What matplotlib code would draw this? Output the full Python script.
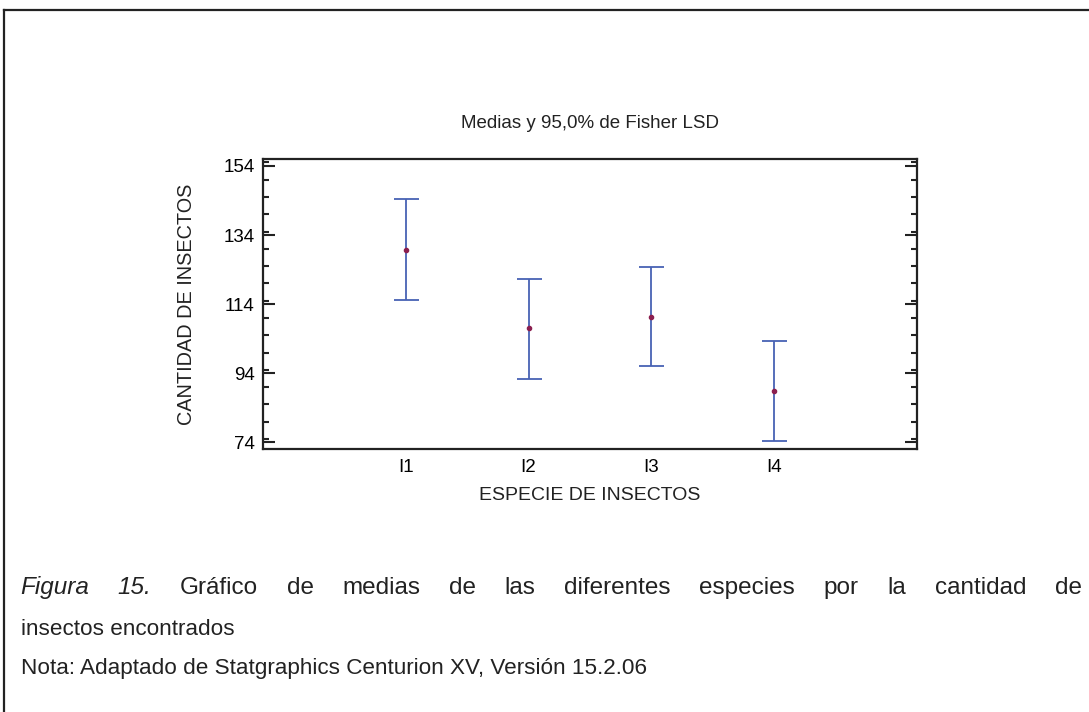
import numpy as np
import matplotlib
matplotlib.use("Agg")
import matplotlib.pyplot as plt
from matplotlib.lines import Line2D
from matplotlib.ticker import MultipleLocator

plt.rcParams['font.family'] = ['Liberation Sans', 'DejaVu Sans']

# data
especies = ["I1", "I2", "I3", "I4"]
medias = [129.8, 107.0, 110.2, 89.0]
limite_inf = [115.2, 92.4, 96.0, 74.5]
limite_sup = [144.3, 121.2, 124.8, 103.4]
y_ticks = [74, 94, 114, 134, 154]

W, H = 1089, 712
fig = plt.figure(figsize=(W / 100, H / 100), dpi=100)

# axes placed in pixel terms
left, right, top, bottom = 263, 917, 159, 449
ax = fig.add_axes([left / W, 1 - bottom / H, (right - left) / W, (bottom - top) / H])

x = np.arange(1, len(especies) + 1)
medias = np.array(medias)
err = [medias - np.array(limite_inf), np.array(limite_sup) - medias]
ax.errorbar(x, medias, yerr=err, fmt='none', ecolor='#4862b4', elinewidth=1.3,
            capsize=9, capthick=1.3)
ax.plot(x, medias, 'o', color='#8b1f4f', markersize=3, zorder=3)

ax.set_xlim(-0.16, 5.16)
ax.set_ylim(72.1, 156.0)
ax.set_xticks(x)
ax.set_xticklabels(especies)
ax.set_yticks(y_ticks)
ax.yaxis.set_minor_locator(MultipleLocator(5))

ax.tick_params(axis='y', which='both', direction='in', left=True, right=True,
               labelsize=13.5, width=1.5, color='#222222', pad=6)
ax.tick_params(axis='y', which='major', length=8.5)
ax.tick_params(axis='y', which='minor', length=4.3)
ax.tick_params(axis='x', which='both', length=0, labelsize=13.5, pad=7)
for sp in ax.spines.values():
    sp.set_linewidth(1.6)
    sp.set_color('#222222')

ax.set_title("Medias y 95,0% de Fisher LSD", fontsize=13.5, pad=22, color='#222222')
ax.set_xlabel("ESPECIE DE INSECTOS", fontsize=14, labelpad=8, color='#222222')
ax.set_ylabel("CANTIDAD DE INSECTOS", fontsize=14.3, labelpad=20, color='#222222')

# page frame (top and left only)
fig.add_artist(Line2D([4 / W, 1], [1 - 10 / H, 1 - 10 / H], color='#222222', lw=1.6))
fig.add_artist(Line2D([4 / W, 4 / W], [1 - 10 / H, 0], color='#222222', lw=1.6))

# caption, first line justified
words = [("Figura", "italic"), ("15.", "italic"), ("Gráfico", "normal"), ("de", "normal"),
         ("medias", "normal"), ("de", "normal"), ("las", "normal"), ("diferentes", "normal"),
         ("especies", "normal"), ("por", "normal"), ("la", "normal"), ("cantidad", "normal"),
         ("de", "normal")]
y1 = 1 - 594 / H
texts = [fig.text(0, y1, w, fontsize=17.5, fontstyle=s, color='#222222') for w, s in words]
fig.canvas.draw()
renderer = fig.canvas.get_renderer()
widths = [t.get_window_extent(renderer).width for t in texts]
x0, x1 = 20, 1082
gap = (x1 - x0 - sum(widths)) / (len(words) - 1)
pos = x0
for t, w in zip(texts, widths):
    t.set_x(pos / W)
    pos += w + gap

fig.text(21 / W, 1 - 635 / H, "insectos encontrados", fontsize=16.2, color='#222222')
fig.text(21 / W, 1 - 674 / H, "Nota: Adaptado de Statgraphics Centurion XV, Versión 15.2.06",
         fontsize=16.2, color='#222222')

fig.savefig("out.png", dpi=100)
